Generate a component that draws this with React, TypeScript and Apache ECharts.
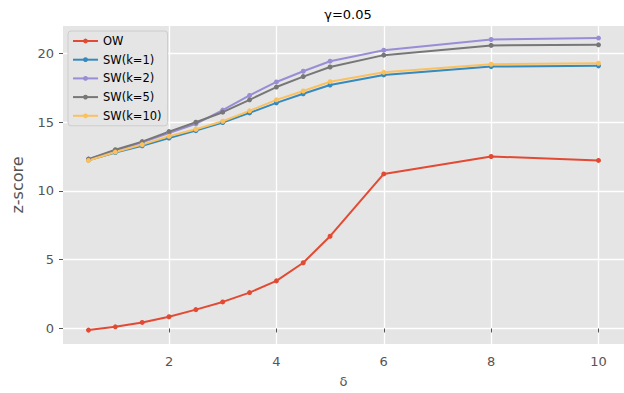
import React, { useEffect, useRef } from "react";
import * as echarts from "echarts";

const deltas = [0.5, 1, 1.5, 2, 2.5, 3, 3.5, 4, 4.5, 5, 6, 8, 10];
const ow = [-0.12, 0.12, 0.44, 0.85, 1.37, 1.93, 2.61, 3.46, 4.78, 6.71, 11.24, 12.51, 12.22];
const swK1 = [12.24, 12.8, 13.29, 13.85, 14.39, 14.98, 15.68, 16.41, 17.07, 17.71, 18.44, 19.05, 19.1];
const swK2 = [12.32, 12.93, 13.54, 14.22, 14.88, 15.88, 16.95, 17.93, 18.71, 19.44, 20.24, 21.02, 21.12];
const swK5 = [12.32, 13.0, 13.59, 14.32, 15.0, 15.73, 16.63, 17.56, 18.32, 19.02, 19.88, 20.59, 20.63];
const swK10 = [12.22, 12.83, 13.37, 13.98, 14.49, 15.07, 15.83, 16.63, 17.27, 17.95, 18.63, 19.22, 19.29];
const xTicks = [2, 4, 6, 8, 10];
const yTicks = [0, 5, 10, 15, 20];

const seriesDefs = [
  { name: "OW", data: ow, color: "#E24A33" },
  { name: "SW(k=1)", data: swK1, color: "#348ABD" },
  { name: "SW(k=2)", data: swK2, color: "#988ED5" },
  { name: "SW(k=5)", data: swK5, color: "#777777" },
  { name: "SW(k=10)", data: swK10, color: "#FBC15E" },
];

const FONT = "DejaVu Sans";

export default function App() {
  const ref = useRef<HTMLDivElement>(null);
  useEffect(() => {
    if (!ref.current) return;
    const chart = echarts.init(ref.current, undefined, { renderer: "svg" });
    chart.setOption({
      animation: false,
      backgroundColor: "#ffffff",
      title: {
        text: "γ=0.05",
        left: 343,
        top: 3,
        textAlign: "center",
        textStyle: { fontFamily: FONT, fontSize: 13, fontWeight: "normal", color: "#000" },
      },
      grid: {
        left: 63,
        right: 0,
        top: 26,
        bottom: 49,
        show: true,
        backgroundColor: "#E5E5E5",
        borderWidth: 0,
      },
      legend: {
        left: 68,
        top: 31,
        orient: "vertical",
        backgroundColor: "#E5E5E5",
        borderColor: "#CCCCCC",
        borderWidth: 1,
        borderRadius: 3,
        padding: [4, 6, 4, 4],
        itemWidth: 25,
        itemHeight: 6,
        itemGap: 6.7,
        textStyle: { fontFamily: FONT, fontSize: 11.5, color: "#000" },
        data: seriesDefs.map((s) => s.name),
      },
      xAxis: {
        type: "value",
        min: 0.025,
        max: 10.475,
        name: "δ",
        nameLocation: "middle",
        nameGap: 31,
        nameTextStyle: { fontFamily: FONT, fontSize: 13, color: "#555555" },
        axisLine: { show: false },
        axisTick: { show: true, length: 4, lineStyle: { color: "#555555" }, customValues: xTicks },
        axisLabel: {
          customValues: xTicks,
          fontFamily: FONT,
          fontSize: 13,
          color: "#555555",
          margin: 11,
        },
        splitLine: { show: true, lineStyle: { color: "#ffffff", width: 1.3 } },
      },
      yAxis: {
        type: "value",
        min: -1.13,
        max: 22.0,
        name: "z-score",
        nameLocation: "middle",
        nameGap: 38,
        nameTextStyle: { fontFamily: FONT, fontSize: 16, color: "#555555" },
        axisLine: { show: false },
        axisTick: { show: true, length: 4, lineStyle: { color: "#555555" }, customValues: yTicks },
        axisLabel: {
          customValues: yTicks,
          fontFamily: FONT,
          fontSize: 13,
          color: "#555555",
          margin: 9,
        },
        splitLine: { show: true, lineStyle: { color: "#ffffff", width: 1.3 } },
      },
      series: seriesDefs.map((s) => ({
        name: s.name,
        type: "line",
        data: deltas.map((d, i) => [d, s.data[i]]),
        symbol: "circle",
        symbolSize: 5,
        showSymbol: true,
        color: s.color,
        lineStyle: { width: 2, color: s.color },
        itemStyle: { color: s.color },
      })),
    });
    return () => chart.dispose();
  }, []);
  return <div ref={ref} style={{ width: 624, height: 393, position: "absolute", left: 0, top: 0 }} />;
}
